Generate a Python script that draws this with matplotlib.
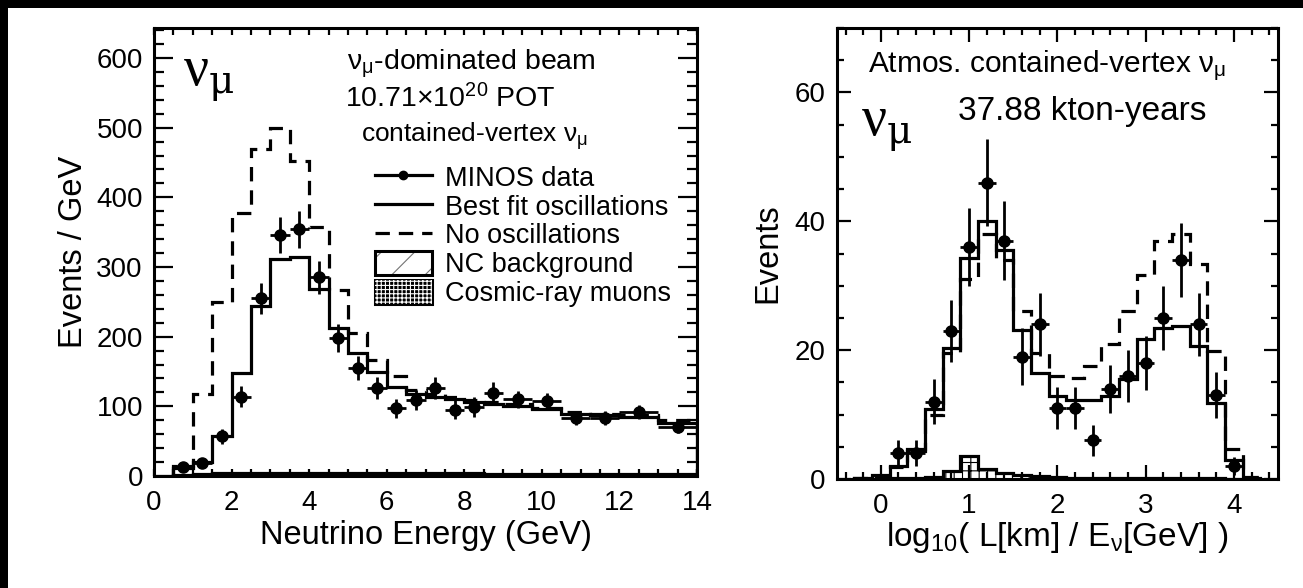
import numpy as np
import matplotlib.pyplot as plt
from matplotlib.ticker import MultipleLocator
from matplotlib.patches import Patch, Rectangle
from matplotlib.lines import Line2D
from matplotlib.legend_handler import HandlerTuple

plt.rcParams['font.family'] = ['Liberation Sans', 'DejaVu Sans']
plt.rcParams['mathtext.fontset'] = 'custom'
plt.rcParams['mathtext.rm'] = 'Liberation Sans'
plt.rcParams['mathtext.it'] = 'Liberation Sans:italic'
plt.rcParams['hatch.linewidth'] = 0.8

# ---- beam sample: reconstructed neutrino energy (events / GeV) ----
e_edges = [0.5, 1.0, 1.5, 2.0, 2.5, 3.0, 3.5, 4.0, 4.5, 5.0, 5.5, 6.0, 6.5,
           7.0, 7.5, 8.0, 8.5, 9.0, 9.75, 10.5, 11.25, 12.0, 13.0, 14.0]
e_data = [13, 19, 57, 114, 255, 346, 354, 285, 198, 155, 126, 97, 109,
          126, 95, 99, 119, 110, 107, 83, 83, 92, 70]
e_data_err = [5.0, 6.2, 10.7, 15.0, 22.6, 26.3, 26.6, 23.9, 19.9, 17.6, 15.9, 13.9, 14.8,
              15.9, 13.8, 14.1, 15.4, 12.1, 11.9, 10.5, 10.5, 9.6, 8.4]
e_bestfit = [12, 20, 57, 148, 244, 312, 315, 269, 213, 176, 149, 128, 118,
             113, 110, 106, 104, 101, 96, 89, 87, 84, 76]
e_nosc = [15, 118, 250, 377, 470, 499, 452, 358, 267, 205, 166, 143, 124,
          118, 113, 109, 106, 103, 98, 92, 89, 88, 80]
e_nc = [2, 3, 4, 5, 5, 5, 5, 5, 4, 4, 4, 4, 4,
        4, 4, 4, 3, 3, 3, 3, 3, 3, 3]
e_cosmic = [0.3, 0.3, 0.3, 0.3, 0.3, 0.3, 0.3, 0.3, 0.3, 0.3, 0.3, 0.3, 0.3,
            0.3, 0.3, 0.3, 0.3, 0.3, 0.3, 0.3, 0.3, 0.3, 0.3]

# ---- atmospheric sample: log10(L/E) (events) ----
le_edges = [-0.3, -0.1, 0.1, 0.3, 0.5, 0.7, 0.9, 1.1, 1.3, 1.5, 1.7, 1.9, 2.1,
            2.3, 2.5, 2.7, 2.9, 3.1, 3.3, 3.5, 3.7, 3.9, 4.1, 4.3]
le_bestfit = [0.1, 0.6, 2.0, 4.6, 10.8, 20.3, 34.3, 40.0, 35.5, 23.2, 16.4, 12.9, 12.2,
              12.2, 12.9, 15.5, 21.7, 23.5, 23.8, 20.6, 11.8, 3.0, 0.2]
le_nosc = [0.1, 0.5, 1.8, 4.4, 10.0, 19.5, 31.0, 38.0, 34.0, 26.0, 19.5, 16.0, 15.7,
           17.5, 21.0, 26.0, 31.7, 37.0, 38.0, 33.3, 19.8, 4.6, 0.3]
le_bkg = [0.0, 0.0, 0.1, 0.2, 0.3, 1.3, 3.6, 1.6, 1.0, 0.6, 0.4, 0.3, 0.2,
          0.2, 0.2, 0.2, 0.2, 0.2, 0.2, 0.2, 0.1, 0.0, 0.0]
le_x = [0.2, 0.4, 0.6, 0.8, 1.0, 1.2, 1.4, 1.6, 1.8, 2.0, 2.2, 2.4, 2.6, 2.8,
        3.0, 3.2, 3.4, 3.6, 3.8, 4.0]
le_data = [4, 4, 12, 23, 36, 46, 37, 19, 24, 11, 11, 6, 14, 16, 18, 25, 34, 24, 13, 2]
le_data_err = [2.0, 2.0, 3.5, 4.8, 6.0, 6.8, 6.1, 4.4, 4.9, 3.3, 3.3, 2.4, 3.7, 4.0,
               4.2, 5.0, 5.8, 4.9, 3.6, 1.4]

LW = 2.3
DASH = (0, (4.5, 2.8))
TICK_FS = 20
LABEL_FS = 23.5

fig = plt.figure(figsize=(13.03, 5.88), dpi=100)
fig.patch.set_facecolor('black')
# white page, leaving a thin dark strip along the top and left edges
fig.patches.append(Rectangle((8 / 1303, -0.1), 1.2, 1.1 - 8 / 588,
                             transform=fig.transFigure, facecolor='white',
                             edgecolor='none', zorder=-10))

ax1 = fig.add_axes([154 / 1303, 1 - 476 / 588, 543 / 1303, 448 / 588])
ax2 = fig.add_axes([836.7 / 1303, 1 - 479 / 588, 441.3 / 1303, 451 / 588])

# left panel
edges = np.array(e_edges)
centers = 0.5 * (edges[:-1] + edges[1:])
half = 0.5 * np.diff(edges)
ax1.stairs(e_nc, edges, fill=True, facecolor='white', edgecolor='0.3', hatch='///', lw=0)
ax1.stairs(e_nc, edges, color='k', lw=LW)
ax1.stairs(e_cosmic, edges, color='k', lw=1.5)
ax1.stairs(e_nosc, edges, color='k', lw=LW, linestyle=DASH)
ax1.stairs(e_bestfit, edges, color='k', lw=LW)
ax1.errorbar(centers, e_data, yerr=e_data_err, xerr=half, fmt='o', ms=8,
             color='k', elinewidth=2.0, capsize=0)

ax1.set_xlim(0, 14)
ax1.set_ylim(0, 643)
ax1.xaxis.set_major_locator(MultipleLocator(2))
ax1.xaxis.set_minor_locator(MultipleLocator(0.5))
ax1.yaxis.set_major_locator(MultipleLocator(100))
ax1.yaxis.set_minor_locator(MultipleLocator(20))
ax1.tick_params(which='both', direction='in', top=True, right=True, width=1.6,
                labelsize=TICK_FS)
ax1.tick_params(axis='y', which='major', length=14, pad=8)
ax1.tick_params(axis='y', which='minor', length=7)
ax1.tick_params(axis='x', which='both', length=5, pad=10)
ax1.set_xlabel('Neutrino Energy (GeV)', fontsize=LABEL_FS, labelpad=3)
ax1.set_ylabel('Events / GeV', fontsize=LABEL_FS, labelpad=5)

ax1.text(0.053, 0.873, 'ν$_{\\mathrm{μ}}$', transform=ax1.transAxes,
         fontsize=40, family='Liberation Serif', math_fontfamily='dejavuserif',
         va='baseline')
ax1.text(0.355, 0.908, r'ν$_{\mathrm{μ}}$-dominated beam', transform=ax1.transAxes,
         fontsize=20.5, va='baseline')
ax1.text(0.352, 0.823, r'10.71$\times$10$^{20}$ POT', transform=ax1.transAxes,
         fontsize=20.5, va='baseline')
ax1.text(0.382, 0.746, r'contained-vertex ν$_{\mathrm{μ}}$', transform=ax1.transAxes,
         fontsize=19, va='baseline')

handles = [
    Line2D([], [], color='k', lw=LW, marker='o', ms=6),
    Line2D([], [], color='k', lw=LW),
    Line2D([], [], color='k', lw=LW, linestyle=DASH),
    (Patch(facecolor='white', edgecolor='0.45', hatch='/', lw=0),
     Patch(facecolor='none', edgecolor='k', lw=2.2)),
    (Patch(facecolor='black', edgecolor='black', lw=2.2),
     Patch(facecolor='none', edgecolor='white', hatch='++++', lw=0)),
]
labels = ['MINOS data', 'Best fit oscillations', 'No oscillations',
          'NC background', 'Cosmic-ray muons']
ax1.legend(handles, labels, loc='upper left', bbox_to_anchor=(0.407, 0.695),
           frameon=False, fontsize=19.5, handlelength=2.1, handleheight=0.95,
           handletextpad=0.5, labelspacing=0.07, borderpad=0, borderaxespad=0,
           handler_map={tuple: HandlerTuple(ndivide=1, pad=0)})

# right panel
ax2.stairs(le_bkg, le_edges, fill=True, facecolor='white', edgecolor='k', hatch='++', lw=0)
ax2.stairs(le_bkg, le_edges, color='k', lw=LW)
ax2.stairs(le_nosc, le_edges, color='k', lw=LW, linestyle=DASH)
ax2.stairs(le_bestfit, le_edges, color='k', lw=LW)
ax2.errorbar(le_x, le_data, yerr=le_data_err, xerr=0.1, fmt='o', ms=8,
             color='k', elinewidth=2.0, capsize=0)

ax2.set_xlim(-0.5, 4.5)
ax2.set_ylim(0, 70)
ax2.xaxis.set_major_locator(MultipleLocator(1))
ax2.xaxis.set_minor_locator(MultipleLocator(0.2))
ax2.yaxis.set_major_locator(MultipleLocator(20))
ax2.yaxis.set_minor_locator(MultipleLocator(5))
ax2.tick_params(which='both', direction='in', top=True, right=True, width=1.6,
                labelsize=TICK_FS)
ax2.tick_params(which='major', length=10)
ax2.tick_params(which='minor', length=5)
ax2.tick_params(axis='y', pad=8)
ax2.tick_params(axis='x', pad=10)
ax2.set_xlabel(r'log$_{10}$( L[km] / E$_{\mathrm{ν}}$[GeV] )', fontsize=24, labelpad=1)
ax2.set_ylabel('Events', fontsize=LABEL_FS, labelpad=8)

ax2.text(0.056, 0.763, 'ν$_{\\mathrm{μ}}$', transform=ax2.transAxes,
         fontsize=40, family='Liberation Serif', math_fontfamily='dejavuserif',
         va='baseline')
ax2.text(0.071, 0.903, r'Atmos. contained-vertex ν$_{\mathrm{μ}}$', transform=ax2.transAxes,
         fontsize=21.5, va='baseline')
ax2.text(0.275, 0.796, '37.88 kton-years', transform=ax2.transAxes,
         fontsize=24, va='baseline')

for ax in (ax1, ax2):
    for s in ax.spines.values():
        s.set_linewidth(2.2)

fig.savefig('out.png', dpi=100, facecolor=fig.get_facecolor())
